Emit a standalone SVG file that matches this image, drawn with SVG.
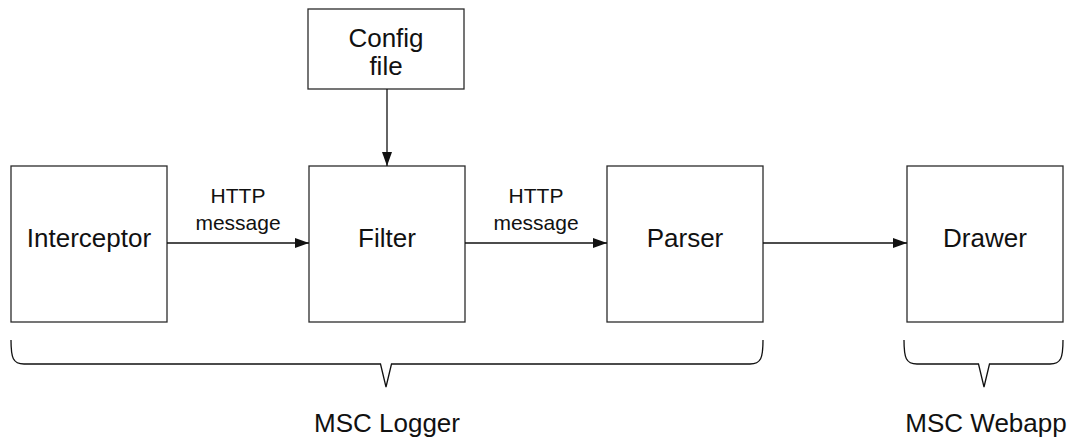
<svg xmlns="http://www.w3.org/2000/svg" width="1069" height="441" viewBox="0 0 1069 441">
  <style>
    .box { fill: #ffffff; stroke: #2b2b2b; stroke-width: 1.3; }
    .node-label { font-family: "Liberation Sans", Arial, sans-serif; font-size: 26px; fill: #111111; text-anchor: middle; }
    .edge-label { font-family: "Liberation Sans", Arial, sans-serif; font-size: 21px; fill: #111111; text-anchor: middle; }
    .edge { fill: none; stroke: #111111; stroke-width: 1.3; }
    .brace { fill: none; stroke: #111111; stroke-width: 1.3; stroke-linejoin: miter; }
  </style>
  <defs>
    <marker id="arrow" viewBox="0 0 14 10" refX="14" refY="5" markerWidth="14" markerHeight="10" markerUnits="userSpaceOnUse" orient="auto">
      <path d="M0,0 L14,5 L0,10 Z" fill="#111111"/>
    </marker>
  </defs>
  <rect width="1069" height="441" fill="#ffffff"/>

  <g id="config-file">
    <rect class="box" x="308" y="9" width="156" height="80"/>
    <text class="node-label" x="386" y="47">Config</text>
    <text class="node-label" x="386" y="75">file</text>
  </g>

  <g id="interceptor">
    <rect class="box" x="11" y="166" width="156" height="156"/>
    <text class="node-label" x="89" y="247">Interceptor</text>
  </g>

  <g id="filter">
    <rect class="box" x="309" y="166" width="156" height="156"/>
    <text class="node-label" x="387" y="247">Filter</text>
  </g>

  <g id="parser">
    <rect class="box" x="607" y="166" width="156" height="156"/>
    <text class="node-label" x="685" y="247">Parser</text>
  </g>

  <g id="drawer">
    <rect class="box" x="907" y="166" width="156" height="156"/>
    <text class="node-label" x="985" y="247">Drawer</text>
  </g>

  <g id="connectors">
    <line class="edge" x1="387" y1="89" x2="387" y2="166" marker-end="url(#arrow)"/>
    <line class="edge" x1="167" y1="243" x2="309" y2="243" marker-end="url(#arrow)"/>
    <line class="edge" x1="465" y1="243" x2="607" y2="243" marker-end="url(#arrow)"/>
    <line class="edge" x1="763" y1="243" x2="907" y2="243" marker-end="url(#arrow)"/>
    <text class="edge-label" x="238" y="203">HTTP</text>
    <text class="edge-label" x="238" y="230">message</text>
    <text class="edge-label" x="536" y="203">HTTP</text>
    <text class="edge-label" x="536" y="230">message</text>
  </g>

  <g id="msc-logger">
    <path class="brace" d="M11,340 C11,358 13,364 24,364 L380.5,364 L386,387 L391.5,364 L750,364 C761,364 763,358 763,340"/>
    <text class="node-label" x="387" y="432">MSC Logger</text>
  </g>

  <g id="msc-webapp">
    <path class="brace" d="M904,340 C904,358 906,364 917,364 L978.5,364 L984,387 L989.5,364 L1050,364 C1061,364 1063,358 1063,340"/>
    <text class="node-label" x="986" y="432">MSC Webapp</text>
  </g>
</svg>
